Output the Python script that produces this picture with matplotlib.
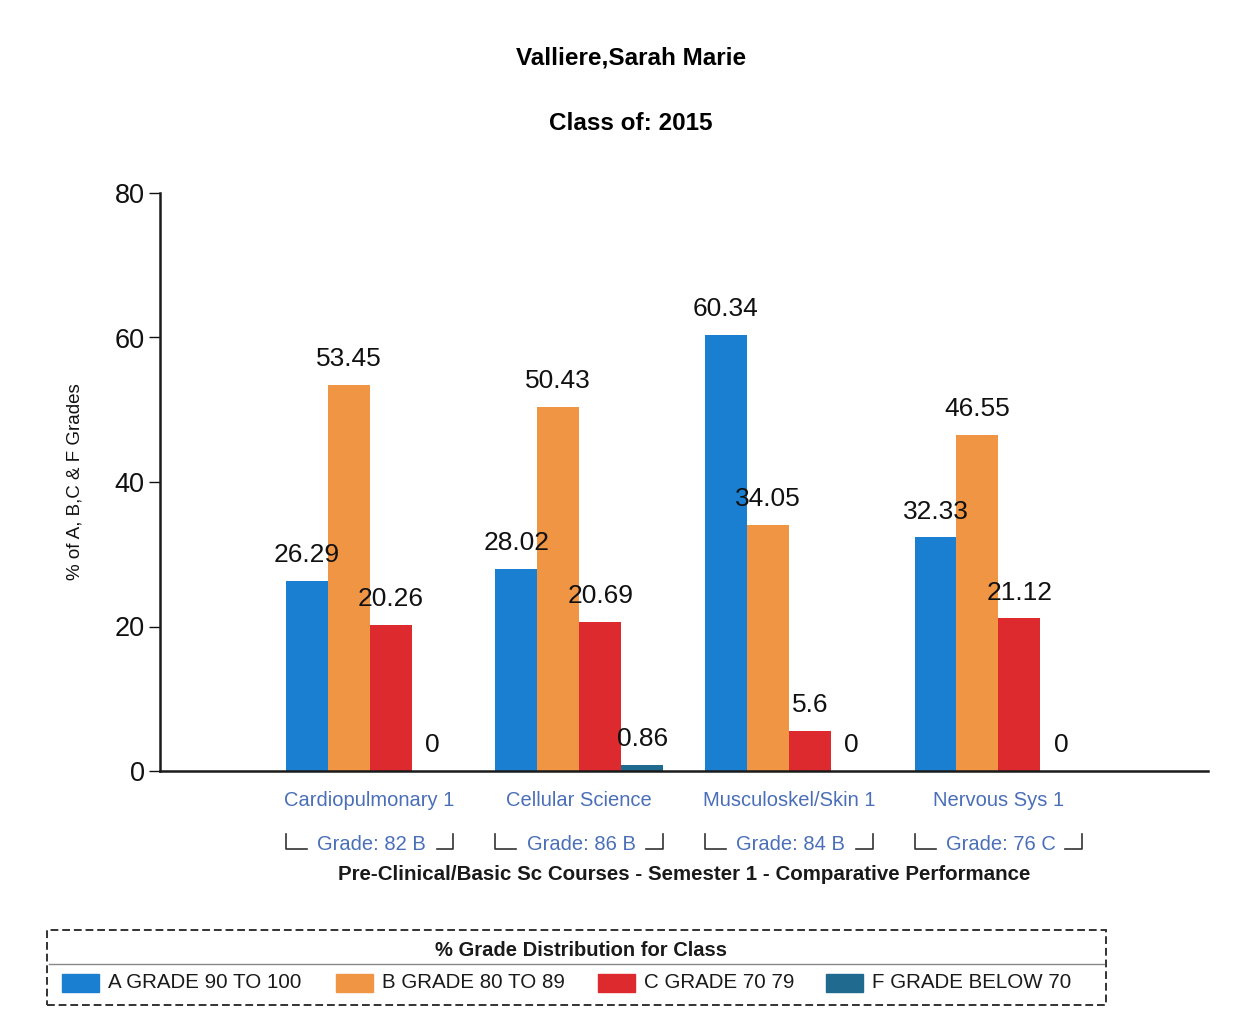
import numpy as np
import matplotlib.pyplot as plt
import matplotlib.transforms as mtransforms
from matplotlib.patches import Rectangle
from matplotlib.lines import Line2D

plt.rcParams['font.family'] = ['Liberation Sans', 'DejaVu Sans']

student = "Valliere,Sarah Marie"
class_of = "Class of: 2015"
courses = ["Cardiopulmonary 1", "Cellular Science", "Musculoskel/Skin 1", "Nervous Sys 1"]
grades = ["Grade: 82 B", "Grade: 86 B", "Grade: 84 B", "Grade: 76 C"]
series_names = ["A GRADE 90 TO 100", "B GRADE 80 TO 89", "C GRADE 70 79", "F GRADE BELOW 70"]
grade_a = [26.29, 28.02, 60.34, 32.33]
grade_b = [53.45, 50.43, 34.05, 46.55]
grade_c = [20.26, 20.69, 5.6, 21.12]
grade_f = [0, 0.86, 0, 0]
colors = ["#1a7fd0", "#ef9544", "#dc2a2e", "#1f6a8e"]

W, H = 1241, 1025
fig = plt.figure(figsize=(W / 100, H / 100), dpi=100)


def fy(py):
    return 1 - py / H


def fx(px):
    return px / W


ax = fig.add_axes([fx(160), fy(771), fx(1208) - fx(160), fy(193) - fy(771)])

x = np.arange(len(courses))
width = 0.2
for i, vals in enumerate([grade_a, grade_b, grade_c, grade_f]):
    pos = x + (i - 1.5) * width
    ax.bar(pos, vals, width, color=colors[i], zorder=2)
    for p, v in zip(pos, vals):
        ax.annotate(f"{v:g}", (p, v), xytext=(0, 10), textcoords="offset points",
                    ha="center", va="bottom", fontsize=19, color="#111111", zorder=3)

ax.set_xlim(-1, 4)
ax.set_ylim(0, 80)
ax.set_yticks([0, 20, 40, 60, 80])
ax.tick_params(axis="y", labelsize=19.5, length=8, width=1, pad=3, colors="#111111")
ax.set_xticks([])
for s in ["top", "right"]:
    ax.spines[s].set_visible(False)
for s in ["left", "bottom"]:
    ax.spines[s].set_linewidth(1.8)
    ax.spines[s].set_color("#1a1a1a")

# titles
fig.text(fx(631), fy(58), student, ha="center", va="center", fontsize=17.5, fontweight="bold")
fig.text(fx(631), fy(124), class_of, ha="center", va="center", fontsize=17.5, fontweight="bold")
fig.text(fx(75), fy(482), "% of A, B,C & F Grades", rotation=90, ha="center", va="center",
         fontsize=13.5, color="#111111")

# category labels with grade brackets underneath
blend = mtransforms.blended_transform_factory(ax.transData, fig.transFigure)
link = "#4a6fb8"
for xi, course, grade in zip(x, courses, grades):
    ax.text(xi, fy(800), course, transform=blend, ha="center", va="center",
            fontsize=14.5, color=link)
    ax.text(xi + 0.01, fy(845), grade, transform=blend, ha="center", va="center",
            fontsize=14.5, color=link)
    left, right = xi - 0.4, xi + 0.4
    ax.add_line(Line2D([left, left, left + 0.1], [fy(834), fy(849), fy(849)],
                       transform=blend, color="#333333", lw=1.2, clip_on=False))
    ax.add_line(Line2D([right - 0.08, right, right], [fy(849), fy(849), fy(834)],
                       transform=blend, color="#333333", lw=1.2, clip_on=False))

fig.text(fx(684), fy(874), "Pre-Clinical/Basic Sc Courses - Semester 1 - Comparative Performance",
         ha="center", va="center", fontsize=14.8, fontweight="bold", color="#1a1a1a")

# legend box
fig.patches.append(Rectangle((fx(47), fy(1005)), fx(1106) - fx(47), fy(930) - fy(1005),
                             transform=fig.transFigure, fill=False, ec="#333333",
                             lw=1.4, ls=(0, (4, 2))))
fig.text(fx(581), fy(950), "% Grade Distribution for Class", ha="center", va="center",
         fontsize=14.5, fontweight="bold", color="#1a1a1a")
fig.lines.append(Line2D([fx(49), fx(1104)], [fy(964), fy(964)], transform=fig.transFigure,
                        color="#888888", lw=1))
legend_x = [62, 336, 598, 826]
for lx, name, c in zip(legend_x, series_names, colors):
    fig.patches.append(Rectangle((fx(lx), fy(992)), fx(37), fy(974) - fy(992),
                                 transform=fig.transFigure, color=c))
    fig.text(fx(lx + 46), fy(983), name, ha="left", va="center", fontsize=14.8,
             color="#1a1a1a")

fig.savefig("out.png", dpi=100)
